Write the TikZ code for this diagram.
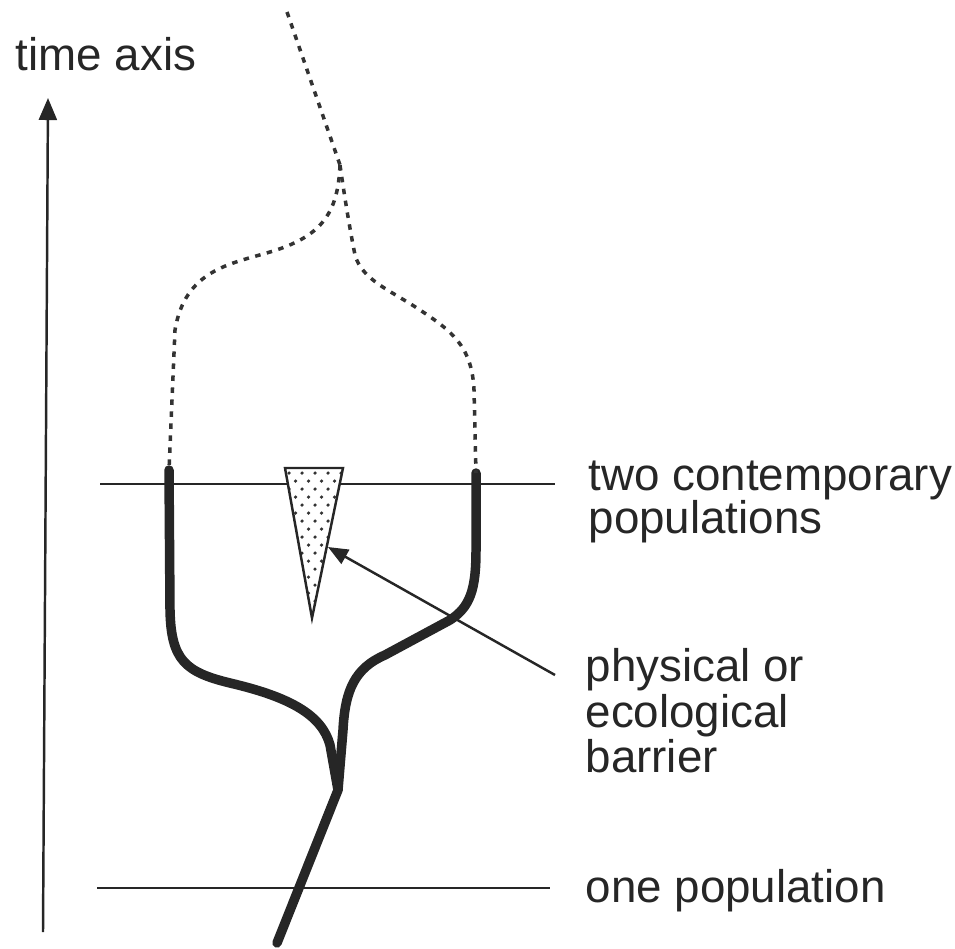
\documentclass[tikz,border=0pt]{standalone}
\usepackage{fontspec}
\setmainfont{Liberation Sans}
\usetikzlibrary{arrows.meta}
\newcommand\labelfont{\fontsize{13}{12}\selectfont\lineskiplimit=-20pt\relax}
\newcommand\barrierfont{\fontsize{13}{12.8}\selectfont\lineskiplimit=-20pt\relax}

\begin{document}
\begin{tikzpicture}[x=0.01cm, y=-0.01cm, font=\labelfont]
    % Styles
    \tikzset{thin line/.style={line width=0.7pt, black!85},
             lineage/.style={line width=2.7pt, black!85, line cap=round, line join=round},
             ghost/.style={line width=1pt, black!80, dash pattern=on 0.55mm off 0.65mm},
             label text/.style={anchor=base west, inner sep=0pt, align=left, text=black!85}}
    \useasboundingbox (0,0) rectangle (955,948);

    % Time axis
    \coordinate (axisbot) at (43,932);
    \coordinate (axistop) at (48,98);
    \draw[thin line, -{Triangle[length=0.22cm, width=0.18cm]}] (axisbot) -- (axistop);
    \node[label text] (timelbl) at (15,70) {time axis};

    % Reference lines
    \coordinate (lineTL) at (100,484);
    \coordinate (lineTR) at (555,484);
    \coordinate (lineBL) at (97,888);
    \coordinate (lineBR) at (550,888);
    \draw[thin line] (lineTL) -- (lineTR);
    \draw[thin line] (lineBL) -- (lineBR);

    % Labels (base = last line)
    \node[label text] (twolbl) at (588,533) {two contemporary\\populations};
    \node[label text, font=\barrierfont] (barrierlbl) at (585,772) {physical or\\ecological\\barrier};
    \node[label text] (onelbl) at (585,902) {one population};

    % Barrier (dotted wedge)
    \coordinate (barTL) at (285,468);
    \coordinate (barTR) at (343,468);
    \coordinate (barTip) at (312,618);
    \fill[white] (barTL) -- (barTR) -- (barTip) -- cycle;
    \begin{scope}
        \clip (barTL) -- (barTR) -- (barTip) -- cycle;
        \foreach \j in {0,...,19} {
            \pgfmathsetmacro\yy{473+8*\j}
            \pgfmathsetmacro\off{mod(\j,2)*6.5}
            \foreach \i in {0,...,5}
                \fill[black!80] (289+\off+13*\i,\yy) circle[radius=0.5pt];
        }
    \end{scope}
    \draw[thin line, line join=miter] (barTL) -- (barTR) -- (barTip) -- cycle;

    % Arrow from label to barrier
    \coordinate (arrstart) at (555,675);
    \coordinate (arrend) at (328,547);
    \draw[thin line, -{Triangle[length=0.2cm, width=0.16cm]}] (arrstart) -- (arrend);

    % Lineages
    \coordinate (stubL) at (169,470);
    \coordinate (stubR) at (476,473);
    \coordinate (fork) at (338,790);
    \coordinate (trunkend) at (277,943);
    \draw[lineage] (stubL) -- (170,610)
        .. controls (171,660) and (185,672) .. (230,683)
        .. controls (290,697) and (322,715) .. (330,745)
        -- (fork) -- (trunkend);
    \draw[lineage] (fork) -- (343,730)
        .. controls (345,690) and (355,668) .. (385,655)
        -- (450,620)
        .. controls (470,607) and (476,590) .. (476,550)
        -- (stubR);

    % Future (dashed) lineages
    \coordinate (peak) at (340,165);
    \coordinate (far) at (287,12);
    \draw[ghost] (far) -- (peak);
    \draw[ghost] (peak) .. controls (338,215) and (320,237) .. (270,252)
        .. controls (230,264) and (185,270) .. (175,330) -- (stubL);
    \draw[ghost] (peak) .. controls (345,200) and (350,230) .. (355,255)
        .. controls (362,280) and (390,290) .. (420,310)
        .. controls (450,330) and (472,345) .. (474,390) -- (stubR);
\end{tikzpicture}
\end{document}
